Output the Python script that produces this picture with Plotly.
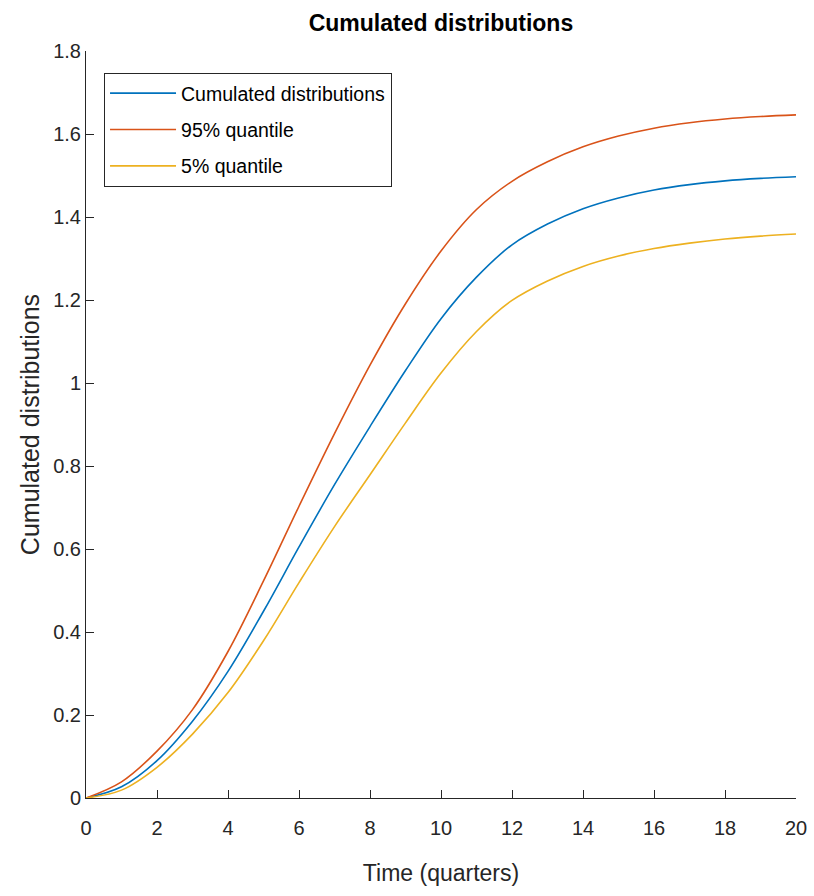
import plotly.graph_objects as go

time_q = list(range(0, 21))
cum_mean = [0, 0.027, 0.09, 0.185, 0.305, 0.45, 0.605, 0.755, 0.895, 1.03, 1.155, 1.255, 1.333,
            1.383, 1.42, 1.446, 1.465, 1.478, 1.487, 1.493, 1.497]
q95 = [0, 0.039, 0.113, 0.213, 0.353, 0.523, 0.703, 0.878, 1.043, 1.191, 1.318, 1.418, 1.486,
       1.533, 1.569, 1.595, 1.614, 1.627, 1.636, 1.642, 1.646]
q05 = [0, 0.019, 0.074, 0.154, 0.254, 0.379, 0.519, 0.654, 0.779, 0.904, 1.024, 1.124, 1.199,
       1.246, 1.281, 1.306, 1.324, 1.337, 1.347, 1.354, 1.359]

names = ["Cumulated distributions", "95% quantile", "5% quantile"]
colors = ["#0072BD", "#D95319", "#EDB120"]
series = [cum_mean, q95, q05]

FONT = "Liberation Sans, Arial, Helvetica, sans-serif"
TXT = "#262626"

fig = go.Figure()
for i, (nm, col, ys) in enumerate(zip(names, colors, series)):
    fig.add_trace(go.Scatter(x=time_q, y=ys, mode="lines", name=nm,
                             legendgroup=f"g{i}",
                             line=dict(color=col, width=1.6, shape="spline", smoothing=1.0)))

axis_common = dict(showline=True, linecolor=TXT, linewidth=1, ticks="inside", ticklen=8,
                   tickcolor=TXT, showgrid=False, zeroline=False, mirror=False,
                   automargin=False,
                   tickfont=dict(family=FONT, size=20, color=TXT))

fig.update_layout(
    width=814, height=896,
    margin=dict(l=86, r=18, t=51, b=98),
    paper_bgcolor="white", plot_bgcolor="white",
    title=dict(text="<b>Cumulated distributions</b>", x=0.5417, xanchor="center",
               y=1 - 23 / 896, yanchor="middle",
               font=dict(family=FONT, size=23, color="black")),
    xaxis=dict(range=[0, 20], tickvals=list(range(0, 21, 2)), ticklabelstandoff=12,
               title=dict(text="Time (quarters)", font=dict(family=FONT, size=23, color=TXT), standoff=26),
               **axis_common),
    yaxis=dict(range=[0, 1.8], tickvals=[0, 0.2, 0.4, 0.6, 0.8, 1, 1.2, 1.4, 1.6, 1.8],
               ticktext=["0", "0.2", "0.4", "0.6", "0.8", "1", "1.2", "1.4", "1.6", "1.8"],
               title=dict(text="Cumulated distributions", font=dict(family=FONT, size=25, color=TXT), standoff=6),
               **axis_common),
    legend=dict(x=0.0254, y=0.9706, xanchor="left", yanchor="top",
                bgcolor="white", bordercolor=TXT, borderwidth=1,
                font=dict(family=FONT, size=19.5, color="black"),
                itemwidth=66, tracegroupgap=8, traceorder="grouped"),
    showlegend=True,
)

fig.write_html("out.html")
